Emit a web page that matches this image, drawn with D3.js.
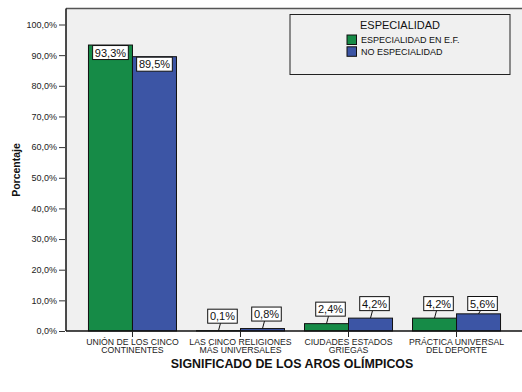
<!DOCTYPE html>
<html><head><meta charset="utf-8">
<script src="https://cdn.jsdelivr.net/npm/d3@7"></script>
<style>body{margin:0;background:#fff}svg{display:block;font-family:"Liberation Sans",Arial,sans-serif}</style>
</head><body>
<script>
const categories = [["UNIÓN DE LOS CINCO","CONTINENTES"],["LAS CINCO RELIGIONES","MÁS UNIVERSALES"],["CIUDADES ESTADOS","GRIEGAS"],["PRÁCTICA UNIVERSAL","DEL DEPORTE"]];
const seriesNames = ["ESPECIALIDAD EN E.F.","NO ESPECIALIDAD"];
const especialidad = [93.3, 0.1, 2.4, 4.2];
const noEspecialidad = [89.5, 0.8, 4.2, 5.6];
const yTicks = [0,10,20,30,40,50,60,70,80,90,100];
const colors = ["#168b47","#3c55a5"];

(function(){
const W=522,H=392;
const svg=d3.select("body").append("svg").attr("width",W).attr("height",H);
const pLeft=66, pRight=523, pTop=8.5, pBottom=331;
svg.append("rect").attr("x",pLeft).attr("y",pTop).attr("width",pRight-pLeft).attr("height",pBottom-pTop).attr("fill","#f0f0f0");
svg.append("line").attr("x1",pLeft).attr("x2",pRight).attr("y1",pTop).attr("y2",pTop).attr("stroke","#555").attr("stroke-width",1.5);
svg.append("line").attr("x1",pLeft).attr("x2",pLeft).attr("y1",pTop).attr("y2",pBottom).attr("stroke","#111").attr("stroke-width",1.5);

const y=d3.scaleLinear().domain([0,100]).range([pBottom,24.5]);
const keys=categories.map((c,i)=>i);
const x0=d3.scaleBand().domain(keys).range([pLeft,pRight]).paddingInner(20/108).paddingOuter(0.208);
const x1=d3.scaleBand().domain([0,1]).range([0,x0.bandwidth()]);
const series=[especialidad,noEspecialidad];

const yAxis=d3.axisLeft(y).tickValues(yTicks).tickSize(6).tickPadding(2).tickFormat(d=>d.toFixed(1).replace(".",",")+"%");
const gy=svg.append("g").attr("transform",`translate(${pLeft-1},0)`).call(yAxis);
gy.select(".domain").remove();
gy.selectAll("text").attr("font-size",9).attr("fill","#222").attr("font-family","Liberation Sans, Arial");
gy.selectAll("line").attr("stroke","#333");

keys.forEach(i=>{
  series.forEach((s,j)=>{
    svg.append("rect").attr("x",x0(i)+x1(j)).attr("y",y(s[i])).attr("width",x1.bandwidth()).attr("height",pBottom-y(s[i]))
      .attr("fill",colors[j]).attr("stroke","#111").attr("stroke-width",1);
  });
});

svg.append("line").attr("x1",pLeft).attr("x2",pRight).attr("y1",pBottom).attr("y2",pBottom).attr("stroke","#111").attr("stroke-width",1.5);
keys.forEach(i=>{
  const cx=x0(i)+x0.bandwidth()/2;
  svg.append("line").attr("x1",cx).attr("x2",cx).attr("y1",pBottom).attr("y2",pBottom+6).attr("stroke","#222");
  const t=svg.append("text").attr("x",cx).attr("text-anchor","middle").attr("font-size",8.7).attr("fill","#222");
  categories[i].forEach((ln,k)=>t.append("tspan").attr("x",cx).attr("y",344.8+k*8.3).text(ln));
});

keys.forEach(i=>{
  series.forEach((s,j)=>{
    const v=s[i];
    const bx=x0(i)+x1(j), bw=x1.bandwidth(), barTop=y(v);
    const txt=v.toFixed(1).replace(".",",")+"%";
    const g=svg.append("g");
    const t=g.append("text").attr("font-size",11).attr("fill","#111").text(txt);
    const tw=t.node().getComputedTextLength();
    const boxW=tw+4.5, boxH=14;
    let cx, boxTop;
    if(v>50){ cx=bx+bw/2; boxTop=barTop+0.5; }
    else {
      cx=bx+bw/2+4;
      const boxBottom=Math.max(barTop-7.5,310.5);
      boxTop=boxBottom-boxH;
      g.insert("line","text").attr("x1",bx+bw/2).attr("y1",barTop).attr("x2",cx-2).attr("y2",boxBottom).attr("stroke","#111");
    }
    g.insert("rect","text").attr("x",cx-boxW/2).attr("y",boxTop).attr("width",boxW).attr("height",boxH).attr("fill","#fff").attr("stroke","#111");
    t.attr("x",cx).attr("y",boxTop+11).attr("text-anchor","middle");
  });
});

svg.append("text").attr("x",292).attr("y",368).attr("text-anchor","middle").attr("font-size",12.4).attr("font-weight","bold").attr("fill","#111").text("SIGNIFICADO DE LOS AROS OLÍMPICOS");
svg.append("text").attr("transform","translate(20,170) rotate(-90)").attr("text-anchor","middle").attr("font-size",10.5).attr("font-weight","bold").attr("fill","#111").text("Porcentaje");

const lg=svg.append("g");
lg.append("rect").attr("x",290).attr("y",14.5).attr("width",220).attr("height",60).attr("fill","none").attr("stroke","#222");
lg.append("text").attr("x",400).attr("y",29).attr("text-anchor","middle").attr("font-size",11).attr("fill","#111").text("ESPECIALIDAD");
seriesNames.forEach((n,j)=>{
  lg.append("rect").attr("x",347).attr("y",35+j*11.8).attr("width",9.5).attr("height",9.5).attr("fill",colors[j]).attr("stroke","#111");
  lg.append("text").attr("x",361).attr("y",43.3+j*11.2).attr("font-size",9).attr("fill","#111").text(n);
});
})();
</script>
</body></html>
